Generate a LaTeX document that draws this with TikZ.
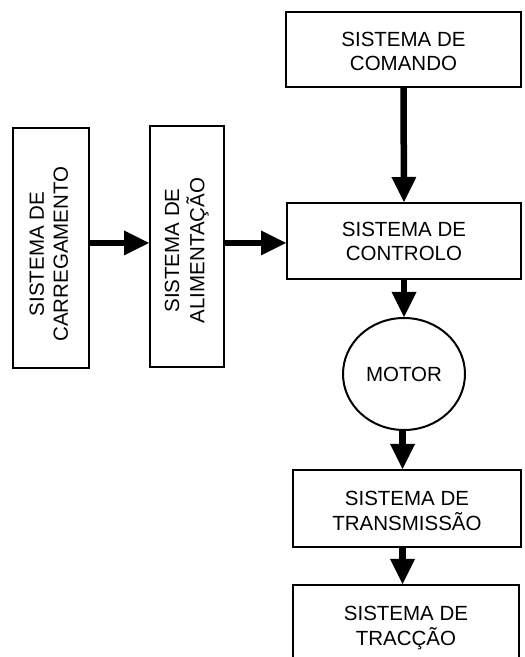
\documentclass[tikz,border=0pt]{standalone}
\usepackage{fontspec}
\setmainfont{Liberation Sans}
\usepackage{graphicx}
\usetikzlibrary{arrows.meta,shapes.geometric}
\tikzset{
  blk/.style={draw=black,line width=2pt,rectangle,inner sep=0pt,align=center,
    font=\fontsize{20.5}{24}\selectfont},
  ell/.style={draw=black,line width=2pt,ellipse,inner sep=0pt,align=center,
    font=\fontsize{20.5}{24}\selectfont},
  flow/.style={line width=6.5pt,-{Triangle[width=25pt,length=25pt,line width=0pt]}}
}
\newcommand{\vtext}[2]{\raisebox{-#1}[\height][\depth]{\rotatebox{90}{\begin{tabular}{@{}c@{}}#2\end{tabular}}}}
\newcommand{\htext}[2]{\raisebox{-#1}[\height][\depth]{\begin{tabular}{@{}c@{}}#2\end{tabular}}}
\begin{document}
\begin{tikzpicture}[x=1pt,y=1pt]
\useasboundingbox (0,0) rectangle (525,657);
\clip (0,0) rectangle (525,657);
\fill[white] (0,0) rectangle (525,657);
\node[blk,minimum width=235pt,minimum height=75pt] (comando) at (403.5,607.5) {\htext{4pt}{SISTEMA DE\\COMANDO}};
\node[blk,minimum width=234pt,minimum height=76pt] (controlo) at (404,416) {\htext{3pt}{SISTEMA DE\\CONTROLO}};
\node[ell,minimum width=122pt,minimum height=112pt] (motor) at (404,283) {\htext{3pt}{MOTOR}};
\node[blk,minimum width=228pt,minimum height=77pt] (transm) at (407,148.5) {\htext{5pt}{SISTEMA DE\\TRANSMISSÃO}};
\node[blk,minimum width=226pt,minimum height=86pt] (traccao) at (406,29) {\htext{0pt}{SISTEMA DE\\TRACÇÃO}};
\node[blk,minimum width=76pt,minimum height=240pt] (carreg) at (51,409) {\vtext{6pt}{SISTEMA DE\\CARREGAMENTO}};
\node[blk,minimum width=74pt,minimum height=241pt] (alim) at (187,410.5) {\vtext{4pt}{SISTEMA DE\\ALIMENTAÇÃO}};
\coordinate (hline) at (0,414);
\coordinate (vline) at (402.5,0);
\draw[flow] (comando.south) -- (controlo.north);
\draw[flow] (controlo.south) -- (motor.north);
\draw[flow] (vline |- motor.south) -- (vline |- transm.north);
\draw[flow] (vline |- transm.south) -- (vline |- traccao.north);
\draw[flow] (carreg.east |- hline) -- (alim.west |- hline);
\draw[flow] (alim.east |- hline) -- (controlo.west |- hline);
\end{tikzpicture}
\end{document}
